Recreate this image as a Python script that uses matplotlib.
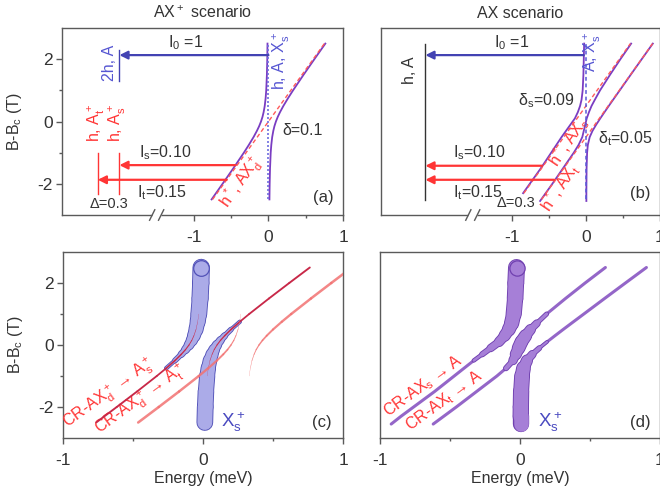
import matplotlib
matplotlib.use("Agg")
import matplotlib.pyplot as plt
import matplotlib.transforms as mtransforms
from matplotlib.collections import LineCollection
import numpy as np

plt.rcParams['font.family'] = ['Liberation Sans', 'DejaVu Sans']
plt.rcParams['mathtext.default'] = 'regular'
plt.rcParams['axes.unicode_minus'] = False

# ------------------------------------------------------------------ data
# AX+ scenario (panels a, c): two anticrossing branches, energy (meV) vs B-Bc (T)
B_A = [-2.5, -2.0, -1.5, -1.0, -0.75, -0.5, -0.3, -0.15, 0.0, 0.15, 0.3, 0.5, 0.75, 1.0, 1.5, 2.0, 2.5]
E_A_LOW = [-0.763, -0.616, -0.471, -0.330, -0.263, -0.200, -0.155, -0.125, -0.100, -0.080, -0.065,
           -0.050, -0.038, -0.030, -0.021, -0.016, -0.013]
E_A_UP = [0.013, 0.016, 0.021, 0.030, 0.038, 0.050, 0.065, 0.080, 0.100, 0.125, 0.155,
          0.200, 0.263, 0.330, 0.471, 0.616, 0.763]
# X-like intensity of each branch (tube thickness in panel c)
XW_A_LOW = [0.02, 0.03, 0.04, 0.08, 0.13, 0.20, 0.30, 0.39, 0.50, 0.61, 0.70, 0.80, 0.87, 0.92, 0.96, 0.97, 0.98]
XW_A_UP = [0.98, 0.97, 0.96, 0.92, 0.87, 0.80, 0.70, 0.61, 0.50, 0.39, 0.30, 0.20, 0.13, 0.08, 0.04, 0.03, 0.02]
DIAG_A_B = [-2.5, 2.5]
DIAG_A_E = [-0.75, 0.75]
VERT_B = [-2.5, 2.5]
VERT_E = [0.0, 0.0]
DELTA = 0.3

# AX scenario (panels b, d): three branches
B_BD = [-2.55, -2.3, -2.0, -1.5, -1.0, -0.75, -0.5, -0.3, -0.1, 0.1, 0.3, 0.5, 0.7, 1.0, 1.5, 2.0, 2.5]
E_BD_LOW = [-0.92, -0.85, -0.76, -0.61, -0.47, -0.40, -0.33, -0.27, -0.21, -0.15, -0.11, -0.08,
            -0.06, -0.045, -0.035, -0.03, -0.025]
E_BD_MID = [-0.62, -0.545, -0.455, -0.31, -0.165, -0.10, -0.05, -0.03, -0.01, 0.01, 0.04, 0.075,
            0.12, 0.19, 0.325, 0.465, 0.61]
E_BD_UPP = [0.005, 0.005, 0.006, 0.008, 0.015, 0.025, 0.05, 0.088, 0.138, 0.193, 0.25, 0.308,
            0.367, 0.456, 0.604, 0.753, 0.903]
XW_BD_LOW = [0.0, 0.0, 0.0, 0.01, 0.03, 0.06, 0.12, 0.22, 0.35, 0.5, 0.62, 0.75, 0.84, 0.92, 0.96, 0.98, 1.0]
XW_BD_MID = [0.0, 0.0, 0.0, 0.01, 0.05, 0.15, 0.4, 0.6, 0.75, 0.8, 0.7, 0.5, 0.3, 0.12, 0.04, 0.02, 0.01]
XW_BD_UPP = [0.95, 0.95, 0.95, 0.94, 0.9, 0.8, 0.55, 0.35, 0.18, 0.08, 0.04, 0.02, 0.01, 0.0, 0.0, 0.0, 0.0]
DIAG_S_B = [-2.3, 2.5]
DIAG_S_E = [-0.84, 0.60]
DIAG_T_B = [-2.5, 2.5]
DIAG_T_E = [-0.60, 0.90]

# transitions (arrows) and final-state levels
ARROW_A_B = [2.13, -1.40, -1.87]
ARROW_A_FROM = [0.0, -0.44, -0.56]
ARROW_A_TO = [-2.0, -2.0, -2.29]
ARROW_B_B = [2.13, -1.42, -1.87]
ARROW_B_FROM = [-0.03, -0.59, -0.43]
ARROW_B_TO = [-2.17, -2.17, -2.17]
LEVEL_A_E = [-2.0, -2.0, -2.29]
LEVEL_A_B0 = [1.30, -2.32, -2.32]
LEVEL_A_B1 = [2.30, -1.00, -1.00]
LEVEL_B_E = [-2.18]
LEVEL_B_B0 = [-2.52]
LEVEL_B_B1 = [2.50]

# ------------------------------------------------------------------ style
SPINE = '#5a5a5a'
TXT = '#333333'
PURPLE = '#7a3dc2'
BLUE_ARR = '#4343b3'
BLUE_TXT = '#5656d2'
RED = '#ff3535'
RED_DASH = '#ff5a5a'
DARK_RED = '#c82848'
LIGHT_RED = '#f27272'
TUBE_C_FACE = '#ababe8'
TUBE_C_EDGE = '#5252b8'
TUBE_D_FACE = '#a67fd7'
TUBE_D_EDGE = '#7040b0'
LINE_D = '#9466c8'
FS = 11.5
FS_TICK = 12.5

fig = plt.figure(figsize=(6.6, 4.96), dpi=100)
W, H = 660.0, 496.0
axA = fig.add_axes([62 / W, 1 - 215 / H, 281 / W, 187 / H])
axB = fig.add_axes([381 / W, 1 - 215 / H, 279 / W, 187 / H])
axC = fig.add_axes([63 / W, 1 - 438 / H, 280 / W, 186 / H])
axD = fig.add_axes([380 / W, 1 - 438 / H, 280 / W, 186 / H])


def style_axes(ax, xlim, yticks):
    ax.set_xlim(*xlim)
    ax.set_ylim(-3, 3)
    for sp in ax.spines.values():
        sp.set_color(SPINE)
        sp.set_linewidth(1.0)
    ax.set_xticks([-1, 0, 1])
    ax.set_xticklabels(['-1', '0', '1'])
    ax.set_xticks([-0.5, 0.5], minor=True)
    if yticks:
        ax.set_yticks([-2, 0, 2])
        ax.set_yticklabels(['-2', '0', '2'])
        ax.set_yticks([-1, 1], minor=True)
    else:
        ax.set_yticks([])
    ax.tick_params(which='major', direction='out', length=4.5, width=1, color=SPINE,
                   labelsize=FS_TICK, labelcolor=TXT)
    ax.tick_params(axis='x', which='major', pad=6)
    ax.tick_params(axis='y', which='major', pad=2)
    ax.tick_params(which='minor', direction='out', length=2.5, width=1, color=SPINE)


def axis_break(ax, xb):
    tr = mtransforms.blended_transform_factory(ax.transData, ax.transAxes)
    ax.plot([xb - 0.06, xb + 0.06], [0, 0], transform=tr, color='white', lw=2.5,
            clip_on=False, zorder=5, solid_capstyle='butt')
    for dx in (-0.06, 0.06):
        ax.plot([xb + dx - 0.035, xb + dx + 0.035], [-0.028, 0.028], transform=tr,
                color=SPINE, lw=1, clip_on=False, zorder=6)


def tube(ax, E, B, w, maxw, face, edge, thr=0.12, topcap=False):
    E = np.asarray(E, float)
    B = np.asarray(B, float)
    w = np.asarray(w, float)
    pts = np.column_stack([E, B])
    segs = np.stack([pts[:-1], pts[1:]], axis=1)
    ws = (w[:-1] + w[1:]) / 2
    keep = ws > thr
    widths = ws[keep] * maxw
    ax.add_collection(LineCollection(segs[keep], linewidths=widths + 1.3, colors=edge,
                                     capstyle='round', joinstyle='round', zorder=3))
    ax.add_collection(LineCollection(segs[keep], linewidths=widths, colors=face,
                                     capstyle='round', joinstyle='round', zorder=3.1))
    if topcap:
        ax.scatter([E[-1]], [B[-1]], s=(w[-1] * maxw) ** 2, facecolor=face, edgecolor=edge,
                   linewidth=0.9, zorder=3.3)


def weighted_line(ax, E, B, w, maxw, color, thr=0.06, z=4, alpha=1.0):
    E = np.asarray(E, float)
    B = np.asarray(B, float)
    w = np.asarray(w, float)
    pts = np.column_stack([E, B])
    segs = np.stack([pts[:-1], pts[1:]], axis=1)
    ws = (w[:-1] + w[1:]) / 2
    keep = ws > thr
    ax.add_collection(LineCollection(segs[keep], linewidths=ws[keep] * maxw, colors=color,
                                     capstyle='round', zorder=z, alpha=alpha))


def arrow(ax, b, e0, e1, color):
    ax.annotate('', xy=(e1, b), xytext=(e0, b),
                arrowprops=dict(arrowstyle='-|>', color=color, lw=1.6, mutation_scale=12,
                                shrinkA=0, shrinkB=0), zorder=4)


# ------------------------------------------------------------------ panel (a)
ax = axA
style_axes(ax, (-2.77, 1.0), True)
axis_break(ax, -1.5)
ax.plot(E_A_LOW, B_A, color=PURPLE, lw=1.3, zorder=3)
ax.plot(E_A_UP, B_A, color=PURPLE, lw=1.3, zorder=3)
ax.plot(DIAG_A_E, DIAG_A_B, color=RED_DASH, lw=1.0, ls=(0, (3, 2)), zorder=3.5)
ax.plot(VERT_E, VERT_B, color='#6e6ee0', lw=1.2, ls=(0, (1.2, 1.2)), zorder=3.5)
for e, b0, b1, c in zip(LEVEL_A_E, LEVEL_A_B0, LEVEL_A_B1, [BLUE_ARR, RED, RED]):
    ax.plot([e, e], [b0, b1], color=c, lw=1.0)
for b, e0, e1, c in zip(ARROW_A_B, ARROW_A_FROM, ARROW_A_TO, [BLUE_ARR, RED, RED]):
    arrow(ax, b, e0, e1, c)
ax.set_title('AX$^+$ scenario', fontsize=FS, color=TXT, pad=7)
ax.text(-1.11, 2.52, 'I$_0$ =1', fontsize=FS, color=TXT, ha='center', va='center')
ax.text(-2.13, 1.87, '2h, A', fontsize=FS, color=BLUE_TXT, rotation=90, ha='center', va='center')
ax.text(0.17, 1.95, 'h, A, X$_s^+$', fontsize=FS, color=BLUE_TXT, rotation=90, ha='center', va='center')
ax.text(0.18, -0.29, 'δ=0.1', fontsize=FS, color=TXT, ha='left', va='center')
ax.text(-2.31, -0.05, 'h, A$_t^+$', fontsize=FS, color=RED, rotation=90, ha='center', va='center')
ax.text(-2.02, -0.05, 'h, A$_s^+$', fontsize=FS, color=RED, rotation=90, ha='center', va='center')
ax.text(-1.74, -0.99, 'I$_s$=0.10', fontsize=FS, color=TXT, ha='left', va='center')
ax.text(-1.77, -2.28, 'I$_t$=0.15', fontsize=FS, color=TXT, ha='left', va='center')
ax.text(-2.14, -2.65, 'Δ=0.3', fontsize=10.5, color=TXT, ha='center', va='center')
ax.text(-0.37, -1.95, 'h$^*$, AX$_d^+$', fontsize=FS, color=RED, rotation=55, ha='center', va='center')
ax.text(0.74, -2.45, '(a)', fontsize=12, color=TXT, ha='center', va='center')
ax.set_ylabel('B-B$_c$ (T)', fontsize=FS, color=TXT)
ax.yaxis.set_label_coords(-0.135, 0.5)

# ------------------------------------------------------------------ panel (b)
ax = axB
style_axes(ax, (-2.77, 1.0), False)
axis_break(ax, -1.53)
ax.plot(E_BD_LOW[1:], B_BD[1:], color=PURPLE, lw=1.3, zorder=3)
ax.plot(E_BD_MID, B_BD, color=PURPLE, lw=1.3, zorder=3)
ax.plot(E_BD_UPP, B_BD, color=PURPLE, lw=1.3, zorder=3)
ax.plot(DIAG_S_E, DIAG_S_B, color=RED_DASH, lw=1.0, ls=(0, (3, 2)), zorder=3.5)
ax.plot(DIAG_T_E, DIAG_T_B, color=RED_DASH, lw=1.0, ls=(0, (3, 2)), zorder=3.5)
ax.plot(VERT_E, VERT_B, color='#5a5ad8', lw=1.1, ls=(0, (2.5, 1.8)), zorder=3.5)
for e, b0, b1 in zip(LEVEL_B_E, LEVEL_B_B0, LEVEL_B_B1):
    ax.plot([e, e], [b0, b1], color=TXT, lw=1.0)
for b, e0, e1, c in zip(ARROW_B_B, ARROW_B_FROM, ARROW_B_TO, [BLUE_ARR, RED, RED]):
    arrow(ax, b, e0, e1, c)
ax.set_title('AX scenario', fontsize=FS, color=TXT, pad=7)
ax.text(-1.0, 2.52, 'I$_0$ =1', fontsize=FS, color=TXT, ha='center', va='center')
ax.text(-2.39, 1.65, 'h, A', fontsize=FS, color=TXT, rotation=90, ha='center', va='center')
ax.text(0.09, 2.24, 'A, X$_s^+$', fontsize=FS, color=BLUE_TXT, rotation=90, ha='center', va='center')
ax.text(-0.54, 0.68, 'δ$_s$=0.09', fontsize=FS, color=TXT, ha='center', va='center')
ax.text(0.53, -0.55, 'δ$_t$=0.05', fontsize=FS, color=TXT, ha='center', va='center')
ax.text(-1.80, -1.0, 'I$_s$=0.10', fontsize=FS, color=TXT, ha='left', va='center')
ax.text(-1.80, -2.29, 'I$_t$=0.15', fontsize=FS, color=TXT, ha='left', va='center')
ax.text(-0.94, -2.6, 'Δ=0.3', fontsize=10.5, color=TXT, ha='center', va='center')
ax.text(-0.24, -0.66, 'h$^*$, AX$_s$', fontsize=FS, color=RED, rotation=56, ha='center', va='center')
ax.text(-0.35, -2.13, 'h$^*$, AX$_t$', fontsize=FS, color=RED, rotation=56, ha='center', va='center')
ax.text(0.73, -2.32, '(b)', fontsize=12, color=TXT, ha='center', va='center')

# ------------------------------------------------------------------ panel (c)
ax = axC
style_axes(ax, (-1, 1), True)
tube(ax, E_A_LOW, B_A, XW_A_LOW, 11.5, TUBE_C_FACE, TUBE_C_EDGE, topcap=True)
tube(ax, E_A_UP, B_A, XW_A_UP, 11.0, TUBE_C_FACE, TUBE_C_EDGE)
diag_low = [1 - v for v in XW_A_LOW]
diag_up = [1 - v for v in XW_A_UP]
weighted_line(ax, E_A_LOW, B_A, diag_low, 1.4, DARK_RED)
weighted_line(ax, E_A_UP, B_A, diag_up, 1.4, DARK_RED)
weighted_line(ax, [e + DELTA for e in E_A_LOW], B_A, diag_low, 1.9, LIGHT_RED, alpha=0.85)
weighted_line(ax, [e + DELTA for e in E_A_UP], B_A, diag_up, 1.9, LIGHT_RED, alpha=0.85)
ax.text(-0.67, -1.58, 'CR-AX$_d^+$ → A$_s^+$', fontsize=FS, color=RED, rotation=36,
        ha='center', va='center')
ax.text(-0.44, -1.78, 'CR-AX$_d^+$ → A$_t^+$', fontsize=FS, color=RED, rotation=36,
        ha='center', va='center')
ax.text(0.13, -2.5, 'X$_s^+$', fontsize=13.5, color='#4a4ac0', ha='left', va='center')
ax.text(0.85, -2.5, '(c)', fontsize=12, color=TXT, ha='center', va='center')
ax.set_ylabel('B-B$_c$ (T)', fontsize=FS, color=TXT)
ax.yaxis.set_label_coords(-0.135, 0.5)
ax.set_xlabel('Energy (meV)', fontsize=FS, color=TXT)
ax.xaxis.set_label_coords(0.5, -0.175)

# ------------------------------------------------------------------ panel (d)
ax = axD
style_axes(ax, (-1, 1), False)
for E in (E_BD_LOW, E_BD_MID, E_BD_UPP):
    ax.plot(E, B_BD, color=LINE_D, lw=2.2, solid_capstyle='round', zorder=2.8)
tube(ax, E_BD_LOW, B_BD, XW_BD_LOW, 11.0, TUBE_D_FACE, TUBE_D_EDGE, topcap=True)
tube(ax, E_BD_MID, B_BD, XW_BD_MID, 11.0, TUBE_D_FACE, TUBE_D_EDGE)
tube(ax, E_BD_UPP, B_BD, XW_BD_UPP, 11.0, TUBE_D_FACE, TUBE_D_EDGE)
ax.text(-0.69, -1.31, 'CR-AX$_s$ → A', fontsize=FS, color=RED, rotation=36, ha='center', va='center')
ax.text(-0.54, -1.8, 'CR-AX$_t$ → A', fontsize=FS, color=RED, rotation=36, ha='center', va='center')
ax.text(0.13, -2.5, 'X$_s^+$', fontsize=13.5, color='#4a4ac0', ha='left', va='center')
ax.text(0.857, -2.5, '(d)', fontsize=12, color=TXT, ha='center', va='center')
ax.set_xlabel('Energy (meV)', fontsize=FS, color=TXT)
ax.xaxis.set_label_coords(0.5, -0.175)

fig.savefig('out.png', dpi=100)
